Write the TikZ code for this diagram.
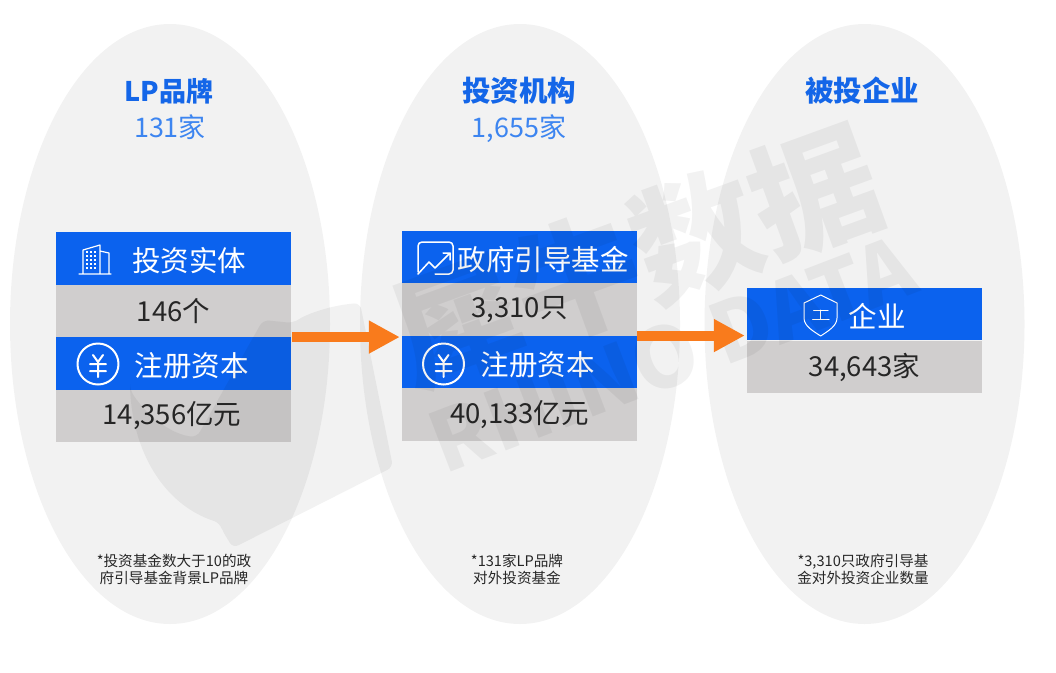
\documentclass[tikz,border=0pt]{standalone}
\usepackage{fontspec}
\setmainfont{Noto Sans CJK SC}
\usetikzlibrary{arrows.meta,shapes.geometric}
\definecolor{headblue}{HTML}{0B62EE}
\definecolor{titleblue}{HTML}{1466E8}
\definecolor{subblue}{HTML}{3D85F0}
\definecolor{bodygray}{HTML}{D0CECE}
\definecolor{ovalgray}{HTML}{F2F2F2}
\definecolor{flowor}{HTML}{F97B1C}
\definecolor{inkdark}{HTML}{262626}
\newcommand{\fs}[1]{\fontsize{#1}{#1}\selectfont}
\begin{document}
\begin{tikzpicture}[x=1pt, y=-1pt,
      oval/.style={ellipse,fill=ovalgray,minimum width=320pt,minimum height=600pt,inner sep=0pt},
      head/.style={rectangle,fill=headblue,text=white,minimum width=235pt,minimum height=52.5pt,inner sep=0pt,text height=26pt,text depth=0pt,font=\fs{28.5}},
      body/.style={rectangle,fill=bodygray,text=inkdark,minimum width=235pt,minimum height=52.5pt,inner sep=0pt,font=\fs{27.5}},
      title/.style={text=titleblue,inner sep=0pt,font=\fs{28.5}\bfseries},
      tally/.style={text=subblue,inner sep=0pt,font=\fs{27}},
      note/.style={text=inkdark,inner sep=0pt,align=center,font=\fontsize{14.6}{17}\selectfont},
      flow/.style={-{Triangle[length=31pt,width=31pt]},line width=10pt,draw=flowor},
      icon/.style={draw=white,line width=1.5pt,line cap=round,line join=round},
      wmark/.style={text=black,text opacity=0.05,inner sep=0pt},
      yen/.pic={
        \draw[icon,line width=2pt] (0,0) circle (20.5);
        \draw[icon,line width=2pt] (-5,-9) -- (0,-2) -- (5,-9) (-8,0) -- (8,0) (-8,7) -- (8,7) (0,-2) -- (0,13);
      }
    ]
      \useasboundingbox (0,0) rectangle (1056,672);

      % ovals
      \node[oval] (lpoval) at (170,324) {};
      \node[oval] (fundoval) at (520,324) {};
      \node[oval] (entoval) at (864.5,324) {};

      % LP column
      \node[title,font=\fs{27}\bfseries] (lptitle) at (169,91) {LP品牌};
      \node[tally] (lpcount) at (170,127) {131家};
      \node[head] (lphead) at (173.5,258.5) {\hspace*{31pt}投资实体};
      \node[body] (lpnum) at (173.5,311) {146个};
      \node[head] (lpcap) at (173.5,363.5) {\hspace*{36pt}注册资本};
      \node[body] (lpcapnum) at (173.5,416) {\hspace*{-3pt}14,356亿元};
      \node[note] (lpnote) at (174,569.5) {*投资基金数大于10的政\\府引导基金背景LP品牌};

      % fund column
      \node[title] (fundtitle) at (519,91) {投资机构};
      \node[tally] (fundcount) at (519,129) {1,655家};
      \node[head] (fundhead) at (519.5,257) {\hspace*{47pt}政府引导基金};
      \node[body] (fundnum) at (519.5,309.5) {3,310只};
      \node[head] (fundcap) at (519.5,362) {\hspace*{36pt}注册资本};
      \node[body] (fundcapnum) at (519.5,414.5) {40,133亿元};
      \node[note] (fundnote) at (517,569.5) {*131家LP品牌\\对外投资基金};

      % company column
      \node[title] (enttitle) at (862,91) {被投企业};
      \node[head] (enthead) at (864.5,314) {\hspace*{25pt}企业};
      \node[body] (entnum) at (864.5,367) {34,643家};
      \node[note] (entnote) at (863,569.5) {*3,310只政府引导基\\金对外投资企业数量};

      % icons
      \draw[icon,line width=1.2pt] (83,273) -- (83,250) -- (100,245) -- (100,273) (100,251) -- (109,253) -- (109,273) (79,274) -- (111,274);
      \foreach \x in {87,91,95} \foreach \y in {252,256,260,264,268}
        \fill[white] (\x-1,\y-1) rectangle (\x+1,\y+1);
      \pic at (98,364) {yen};
      \pic at (443.5,364) {yen};
      \draw[icon,rounded corners=4pt] (418,272) -- (418,242) -- (453,242) -- (453,274) -- (435,274);
      \draw[icon] (418,274) -- (429,262) -- (435,268) -- (450,253) (443,253) -- (450,253) -- (450,260);
      \draw[icon,line width=1pt] (820.7,295) -- (837,303) -- (837,318) .. controls (837,326) and (828,331) .. (820.7,336) .. controls (813,331) and (804,326) .. (804,318) -- (804,303) -- cycle;
      \draw[icon,line width=1pt] (813.5,310) -- (828,310) (820.7,310) -- (820.7,319) (812.5,319) -- (829,319);

      % watermark
      \fill[black,opacity=0.05,rounded corners=6pt] (130,390) .. controls (150,420) and (175,435) .. (197,437) -- (263,320) -- (293,323) .. controls (310,312) and (335,305) .. (360,303) -- (393,467) -- (233,548) -- (222,530) -- (220,523) .. controls (165,505) and (135,455) .. cycle;
      \node[wmark,rotate=20,font=\fs{127}\bfseries] (markcn) at (636,257) {犀牛数据};
      \node[wmark,rotate=21,font=\fs{83}\bfseries] (markuk) at (672,354) {RHINO DATA};

      % flows
      \draw[flow] ([xshift=1pt]lpcap.north east) -- ([xshift=-2pt]lpcap.north east -| fundcap.west);
      \draw[flow] (fundcap.north east) -- ([xshift=-2pt]fundcap.north east -| enthead.west);
    \end{tikzpicture}
\end{document}
